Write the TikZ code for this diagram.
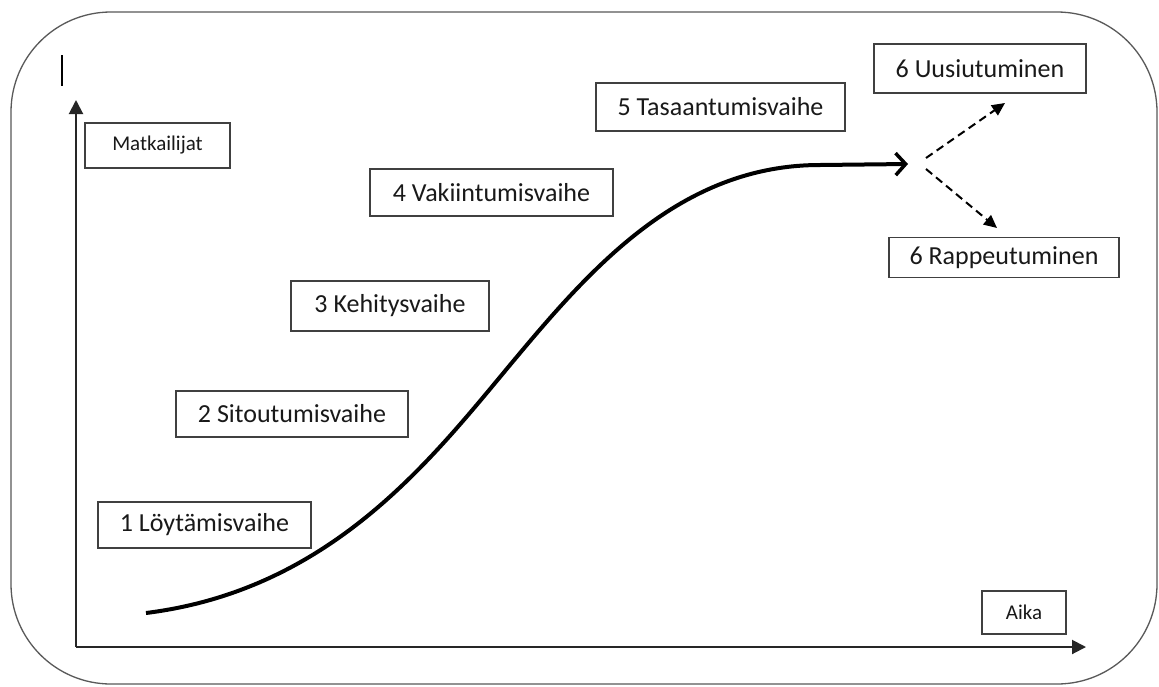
\documentclass[tikz,border=0pt]{standalone}
\usepackage{fontspec}
\setmainfont{Carlito}
\usetikzlibrary{arrows.meta}
\begin{document}
\begin{tikzpicture}[x=1pt,y=-1pt,
  stagebox/.style={draw=black!75, line width=1.2pt, inner sep=0pt, font=\fontsize{26}{30}\selectfont, text=black!90},
  axisbox/.style={draw=black!75, line width=1.2pt, inner sep=0pt, font=\fontsize{21}{25}\selectfont, text=black!90},
  axisline/.style={line width=2pt, black!85, -{Triangle[length=14pt,width=14pt]}},
  trend/.style={line width=4pt, -{Straight Barb[length=10pt,width=22pt,line width=3.5pt]}},
  branch/.style={line width=2pt, dash pattern=on 8pt off 5pt, -{Triangle[length=13pt,width=12pt]}}]
\useasboundingbox (0,0) rectangle (1159,686);
\fill[white] (0,0) rectangle (1159,686);
% outer frame
\draw[black!65, line width=1.3pt, rounded corners=100pt] (11,12) rectangle (1157,684);
% small bar
\draw[line width=2.8pt] (62,55) -- (62,86);
% axes
\coordinate (origin) at (76,647);
\coordinate (ytip) at (76,100);
\coordinate (xtip) at (1086,647);
\draw[axisline] (origin) -- (ytip);
\draw[axisline] (origin) -- (xtip);
% labels
\node[axisbox, minimum width=145pt, minimum height=45pt] (ylab) at (157.5,145.5) {Matkailijat};
\node[axisbox, minimum width=84pt, minimum height=43pt] (xlab) at (1024,612.5) {Aika};
\node[stagebox, minimum width=213pt, minimum height=46pt] (s1) at (204.5,525) {1 Löytämisvaihe};
\node[stagebox, minimum width=232pt, minimum height=46pt] (s2) at (292,414) {2 Sitoutumisvaihe};
\node[stagebox, minimum width=198pt, minimum height=50pt] (s3) at (390,306) {3 Kehitysvaihe};
\node[stagebox, minimum width=243pt, minimum height=47pt] (s4) at (491.5,192.5) {4 Vakiintumisvaihe};
\node[stagebox, minimum width=249pt, minimum height=48pt] (s5) at (720.5,107) {5 Tasaantumisvaihe};
\node[stagebox, minimum width=212pt, minimum height=49pt] (s6u) at (980,68.5) {6 Uusiutuminen};
\node[stagebox, minimum width=230pt, minimum height=40pt] (s6r) at (1004,257.5) {6 Rappeutuminen};
% curve
\coordinate (cstart) at (146,613);
\coordinate (cmid) at (510,365);
\coordinate (cflat) at (820,165);
\coordinate (cend) at (908,164);
\draw[trend] (cstart) .. controls (330,590) and (430,461) .. (cmid)
  .. controls (590,269) and (680,165) .. (cflat) -- (cend);
% branches
\coordinate (bu) at (926,158);
\coordinate (br) at (926,169);
\coordinate (tu) at (1005,103);
\coordinate (tr) at (997,228);
\draw[branch] (bu) -- (tu);
\draw[branch] (br) -- (tr);
\end{tikzpicture}
\end{document}
